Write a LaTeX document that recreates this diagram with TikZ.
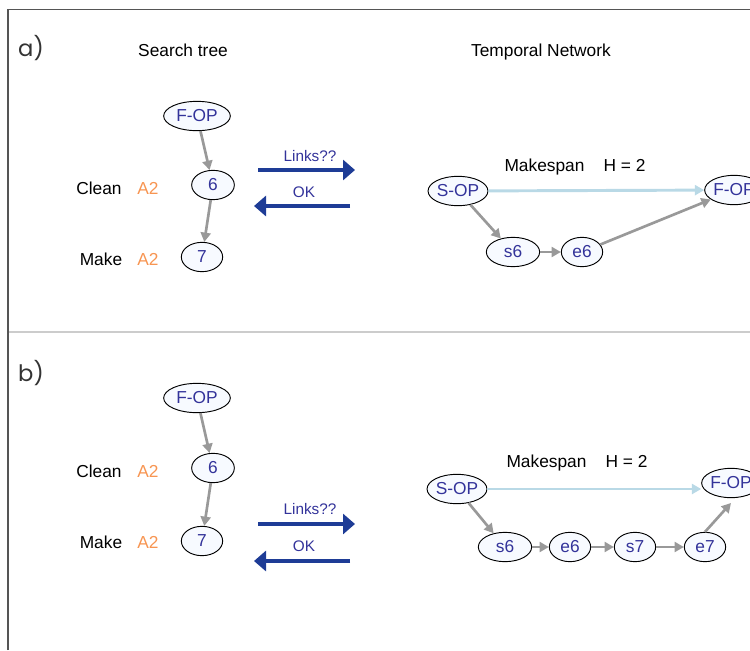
\documentclass[tikz,border=0pt]{standalone}
\usepackage{fontspec}
\setmainfont{Liberation Sans}
\newfontfamily\labfont{Poppins}
\usetikzlibrary{shapes.geometric,arrows.meta}
\definecolor{nodefill}{HTML}{F7FAFF}
\definecolor{nodetext}{HTML}{33339A}
\definecolor{graya}{HTML}{999999}
\definecolor{bluea}{HTML}{1E3C96}
\definecolor{lightb}{HTML}{B9D9E6}
\definecolor{orangea}{HTML}{F79552}
\definecolor{frame}{HTML}{555555}
\definecolor{sep}{HTML}{CCCCCC}
\tikzset{
  ev/.style={ellipse, draw=black, line width=0.7pt, fill=nodefill, text=nodetext, inner sep=0pt,
    minimum height=22pt, font=\fontsize{13}{15}\selectfont},
  garrow/.style={draw=graya, line width=2pt, -{Triangle[length=7pt,width=7.5pt]}},
  barrow/.style={draw=bluea, line width=2.4pt, -{Triangle[length=9pt,width=15pt]}},
  larrow/.style={draw=lightb, line width=2.2pt, -{Triangle[length=7pt,width=7.5pt]}},
  lbl/.style={font=\fontsize{13}{15}\selectfont, text=black},
  small/.style={font=\fontsize{11.5}{13}\selectfont, text=nodetext},
  agent/.style={font=\fontsize{13}{15}\selectfont, text=orangea},
  panel/.style={font=\labfont\fontsize{17}{19}\selectfont, text=black!80}
}
\begin{document}
\begin{tikzpicture}[x=0.75pt,y=-0.75pt]
\useasboundingbox (0,0) rectangle (750,650);
% frame
\draw[frame, line width=1pt] (8,650) -- (8,9.5) -- (750,9.5);
\draw[sep, line width=1pt] (9,332) -- (750,332);

% ---------- panel a ----------
\node[panel] (pa) at (31,48) {a)};
\node[lbl] (sta) at (183,50) {Search tree};
\node[lbl] (tna) at (541,52) {Temporal Network};

\node[ev, minimum width=50pt] (afop) at (197,116) {F-OP};
\node[ev, minimum width=32pt] (a6) at (213,185) {6};
\node[ev, minimum width=31pt] (a7) at (202,257) {7};
\node[lbl] (acl) at (99,188) {Clean};
\node[agent] (aa1) at (148,188) {A2};
\node[lbl] (amk) at (101,259) {Make};
\node[agent] (aa2) at (148,259) {A2};
\draw[garrow] (afop) -- (a6);
\draw[garrow] (a6) -- (a7);

\coordinate (alf) at (258,170);
\coordinate (alt) at (355,170);
\coordinate (aof) at (350,206);
\coordinate (aot) at (254,206);
\draw[barrow] (alf) -- (alt);
\draw[barrow] (aof) -- (aot);
\node[small] (alk) at (310,156) {Links??};
\node[small] (aok) at (304,192) {OK};

\node[ev, minimum width=42pt] (asop) at (458,191) {S-OP};
\node[ev, minimum width=44pt] (aeop) at (734,190) {F-OP};
\node[ev, minimum width=40pt] (as6) at (513,252) {s6};
\node[ev, minimum width=31pt] (ae6) at (582,252) {e6};
\node[lbl] (amsp) at (575,167) {Makespan\hspace{1.1em}H = 2};
\draw[larrow] (asop) -- (aeop);
\draw[garrow] (asop) -- (as6);
\draw[garrow] (as6) -- (ae6);
\draw[garrow] (ae6) -- (aeop);

% ---------- panel b ----------
\node[panel] (pb) at (31,373) {b)};
\node[ev, minimum width=50pt] (bfop) at (197,398) {F-OP};
\node[ev, minimum width=32pt] (b6) at (213,468) {6};
\node[ev, minimum width=31pt] (b7) at (202,541) {7};
\node[lbl] (bcl) at (99,471) {Clean};
\node[agent] (ba1) at (148,471) {A2};
\node[lbl] (bmk) at (101,542) {Make};
\node[agent] (ba2) at (148,542) {A2};
\draw[garrow] (bfop) -- (b6);
\draw[garrow] (b6) -- (b7);

\coordinate (blf) at (258,524);
\coordinate (blt) at (355,524);
\coordinate (bof) at (350,561);
\coordinate (bot) at (254,561);
\draw[barrow] (blf) -- (blt);
\draw[barrow] (bof) -- (bot);
\node[small] (blk) at (310,509) {Links??};
\node[small] (bok) at (304,546) {OK};

\node[ev, minimum width=42pt] (bsop) at (457,489) {S-OP};
\node[ev, minimum width=44pt] (beop) at (731,483) {F-OP};
\node[ev, minimum width=40pt] (bs6) at (505,547) {s6};
\node[ev, minimum width=31pt] (be6) at (570,547) {e6};
\node[ev, minimum width=31pt] (bs7) at (635,547) {s7};
\node[ev, minimum width=31pt] (be7) at (705,547) {e7};
\node[lbl] (bmsp) at (577,463) {Makespan\hspace{1.1em}H = 2};
\draw[larrow] (bsop) -- (beop.west |- bsop);
\draw[garrow] (bsop) -- (bs6);
\draw[garrow] (bs6) -- (be6);
\draw[garrow] (be6) -- (bs7);
\draw[garrow] (bs7) -- (be7);
\coordinate (bet) at (731,503);
\draw[garrow] (be7.north) -- (bet);
\end{tikzpicture}
\end{document}
